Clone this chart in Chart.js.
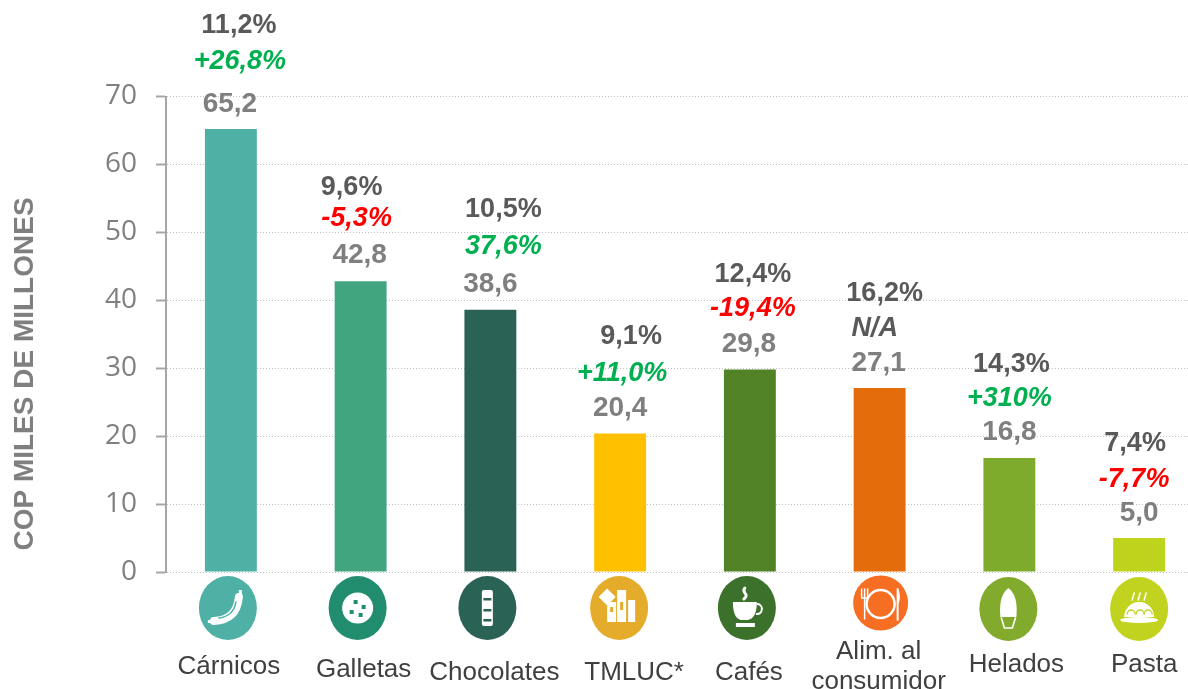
<!DOCTYPE html>
<html>
<head>
<meta charset="utf-8">
<style>
html,body{margin:0;padding:0;background:#fff;overflow:hidden}
canvas{display:block}
</style>
<script src="https://cdn.jsdelivr.net/npm/chart.js@4"></script>
</head>
<body>
<canvas id="chart" width="1210" height="689"></canvas>
<script>
// data
const categories = ["Cárnicos","Galletas","Chocolates","TMLUC*","Cafés",["Alim. al","consumidor"],"Helados","Pasta"];
const values = [65.2,42.8,38.6,20.4,29.8,27.1,16.8,5.0];
const shares = ["11,2%","9,6%","10,5%","9,1%","12,4%","16,2%","14,3%","7,4%"];
const changes = ["+26,8%","-5,3%","37,6%","+11,0%","-19,4%","N/A","+310%","-7,7%"];
const yTicks = [0,10,20,30,40,50,60,70];

// styles and hand placement
const barColors = ["#4fb1a6","#41a580","#2a6355","#ffc000","#518225","#e46c0a","#7fab2c","#bed41c"];
const iconColors = ["#4fb1a6","#218d6e","#2a6355","#e5ac2b","#3b712b","#f56e21","#82ab2e","#c1d31f"];
const changeColors = ["#00b050","#ff0000","#00b050","#00b050","#ff0000","#595959","#00b050","#ff0000"];
// offsets from the bar centre (x) and bar top (y)
const valueDx = [-1,-1,0,0,-1,-1,0,0];
const valueDy = [25,26,26,25,25,25,26,25];
const changeDx = [9,-4,13,2,3,-5,0,-5];
const changeDy = [68,63,63,60,61,59,59,58];
const shareDx = [8,-9,13,11,3,5,2,-4];
const shareDy = [104,94,100,97,95,94,93,94];
const labelDx = [-2,3,4,14,-1,-1,7,5];
const labelY = [667,670,673,673,673,652,665,665];
const iconDx = [-3,-3,-3,-1,-3,1,-1,0];
const iconY = [608,608,608,608,608,603,609,609];
const iconRx = [29,29,29,29,29,27.5,29,29];
const iconRy = [32,32,32,32,32,27.5,32,32];

function glyph(c,i,x,y){
  c.save();
  c.translate(x,y);
  c.fillStyle="#fff"; c.strokeStyle="#fff"; c.lineCap="round";
  let col=iconColors[i];
  if(i==0){ // sausage
    c.lineWidth=8; c.beginPath(); c.moveTo(-14,13); c.quadraticCurveTo(9,12,11,-11); c.stroke();
    c.strokeStyle=col; c.lineWidth=1.6; c.beginPath(); c.moveTo(-9,10); c.quadraticCurveTo(6,8,8,-6); c.stroke();
    c.fillRect(11,-18,3,5); c.fillRect(-20,12,4,3);
  }else if(i==1){ // cookie
    c.beginPath(); c.arc(0,0,15.5,0,7); c.fill();
    c.fillStyle=col;
    [[-2,-6],[6,-1],[-6,4],[3,7]].forEach(p=>c.fillRect(p[0]-2,p[1]-2,4,4));
  }else if(i==2){ // chocolate bar
    c.beginPath(); c.roundRect(-5.5,-18,11,36,2); c.fill();
    c.fillStyle=col;
    [-9,2,12].forEach(v=>c.fillRect(-4,v-1,8,2.5));
  }else if(i==3){ // packages
    c.fillRect(-12,-6,9,20); c.fillRect(-2,-18,9,32); c.fillRect(9,-8,7,22);
    c.save(); c.translate(-12,-11); c.rotate(Math.PI/4); c.fillRect(-6,-6,12,12); c.restore();
    c.fillStyle=col; c.fillRect(-9,-1,3,5); c.fillRect(1,-6,3,8);
  }else if(i==4){ // cup
    c.beginPath(); c.moveTo(-14,-6); c.lineTo(10,-6); c.quadraticCurveTo(10,10,1,12); c.lineTo(-6,12); c.quadraticCurveTo(-14,10,-14,-6); c.fill();
    c.lineWidth=2; c.beginPath(); c.arc(10,1,5,-1.4,1.6); c.stroke();
    c.fillRect(-11,15,19,4);
    c.lineWidth=3; c.beginPath(); c.moveTo(-3,-9); c.quadraticCurveTo(1,-12,-2,-15); c.quadraticCurveTo(-4,-18,-2,-20); c.stroke();
  }else if(i==5){ // plate and cutlery
    c.lineWidth=2.5; c.beginPath(); c.arc(0,1,14,0,7); c.stroke();
    c.lineWidth=1.5;
    c.beginPath(); c.moveTo(-16,16); c.lineTo(-16,-5); c.stroke();
    [-19,-16,-13].forEach(v=>{c.beginPath(); c.moveTo(v,-5); c.lineTo(v,-14); c.stroke();});
    c.beginPath(); c.moveTo(-19,-5); c.lineTo(-13,-5); c.stroke();
    c.lineWidth=2; c.beginPath(); c.moveTo(17,17); c.lineTo(17,-14); c.stroke();
    c.beginPath(); c.moveTo(17,-15); c.quadraticCurveTo(21,-8,18,1); c.lineTo(17,1); c.fill();
  }else if(i==6){ // ice cream
    c.beginPath(); c.moveTo(0,-21); c.bezierCurveTo(8,-15,9,-4,8,8); c.lineTo(-8,8); c.bezierCurveTo(-9,-4,-8,-15,0,-21); c.fill();
    c.lineWidth=1.6; c.beginPath(); c.moveTo(-7,9); c.lineTo(-4,19); c.lineTo(4,19); c.lineTo(7,9); c.stroke();
  }else{ // pasta
    c.beginPath(); c.ellipse(0,11,19,3,0,0,7); c.fill();
    c.beginPath(); c.arc(0,8,15,Math.PI,0); c.fill();
    c.strokeStyle=col; c.lineWidth=1.3;
    [-8,1,9].forEach(v=>{c.beginPath(); c.arc(v,5,4,Math.PI,0); c.stroke();});
    c.strokeStyle="#fff"; c.lineWidth=1.5;
    [-6,0,6].forEach(v=>{c.beginPath(); c.moveTo(v-1,-9); c.lineTo(v+1,-16); c.stroke();});
  }
  c.restore();
}

const annotate = {
  id:"annotate",
  afterDraw(chart){
    const c=chart.ctx,xs=chart.scales.x,ys=chart.scales.y;
    c.save();
    c.textAlign="center"; c.textBaseline="middle";
    values.forEach((v,i)=>{
      let x=xs.getPixelForValue(i),top=ys.getPixelForValue(v);
      c.font='bold 28px "Liberation Sans"';
      c.fillStyle="#7f7f7f"; c.fillText(String(v.toFixed(1)).replace(".",","),x+valueDx[i],top-valueDy[i]);
      c.font='bold 27px "Liberation Sans"';
      c.fillStyle="#595959"; c.fillText(shares[i],x+shareDx[i],top-shareDy[i]);
      c.font='italic bold 27px "Liberation Sans"';
      c.fillStyle=changeColors[i]; c.fillText(changes[i],x+changeDx[i],top-changeDy[i]);

      c.fillStyle=iconColors[i];
      c.beginPath(); c.ellipse(x+iconDx[i],iconY[i],iconRx[i],iconRy[i],0,0,7); c.fill();
      glyph(c,i,x+iconDx[i],iconY[i]);

      c.font='26px "Liberation Sans"'; c.fillStyle="#404040";
      [].concat(categories[i]).forEach((t,n)=>c.fillText(t,x+labelDx[i],labelY[i]+n*30));
    });
    c.translate(25,374); c.rotate(-Math.PI/2);
    c.font='bold 28px "Liberation Sans"'; c.fillStyle="#7f7f7f";
    c.fillText("COP MILES DE MILLONES",0,0);
    c.restore();
  }
};

new Chart(document.getElementById("chart"),{
  type:"bar",
  plugins:[annotate],
  data:{labels:categories,datasets:[{data:values,backgroundColor:barColors,barPercentage:0.4,categoryPercentage:1}]},
  options:{
    responsive:false,animation:false,
    layout:{padding:{top:96.5,right:6,left:0,bottom:0}},
    plugins:{legend:{display:false},tooltip:{enabled:false}},
    scales:{
      x:{
        grid:{display:false},border:{display:false},
        ticks:{display:false},
        afterFit(s){s.height=117}
      },
      y:{
        min:0,max:70,
        afterFit(s){s.width=166},
        afterBuildTicks(s){s.ticks=yTicks.map(v=>({value:v}))},
        border:{color:"#a6a6a6",width:2,dash:[1,2]},
        grid:{color:"#bfbfbf",lineWidth:1,tickColor:"#a6a6a6",tickWidth:2,tickLength:10,tickBorderDash:[]},
        ticks:{color:"#808080",font:{family:'"Open Sans"',size:28},padding:19}
      }
    }
  }
});
</script>
</body>
</html>
